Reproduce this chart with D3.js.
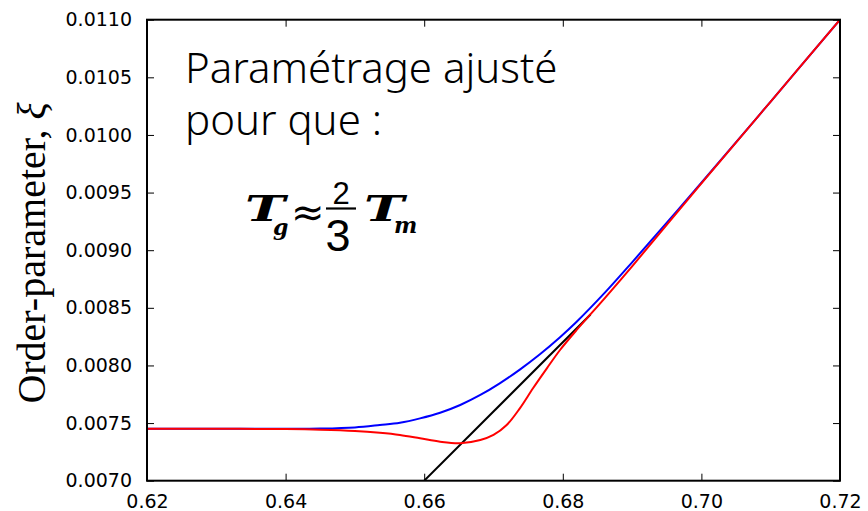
<!DOCTYPE html>
<html>
<head>
<meta charset="utf-8">
<script src="https://cdn.jsdelivr.net/npm/d3@7"></script>
<style>
  html, body { margin: 0; padding: 0; background: #fff; }
  svg { display: block; }
</style>
</head>
<body>
<svg id="chart" width="868" height="511"></svg>
<script>
// Temperature axis and order-parameter axis ticks
const xTicks = [0.62, 0.64, 0.66, 0.68, 0.70, 0.72];
const yTicks = [0.0070, 0.0075, 0.0080, 0.0085, 0.0090, 0.0095, 0.0100, 0.0105, 0.0110];

// Cooling curve (blue)
const blueX = [0.620, 0.630, 0.640, 0.645, 0.650, 0.6536, 0.6565, 0.6594, 0.6623, 0.6652, 0.6681,
               0.6709, 0.6738, 0.6767, 0.6796, 0.682, 0.686, 0.690, 0.700, 0.710, 0.720];
const blueY = [0.00745, 0.00745, 0.00745, 0.007452, 0.007462, 0.007483, 0.007503, 0.007541, 0.007590,
               0.007657, 0.007744, 0.007845, 0.007964, 0.008097, 0.008245, 0.008379, 0.008627, 0.008895,
               0.009585, 0.01029, 0.0110];

// Heating curve (red)
const redX = [0.620, 0.630, 0.640, 0.645, 0.650, 0.6536, 0.6565, 0.6594, 0.6623, 0.6652, 0.6681,
              0.6700, 0.6719, 0.6738, 0.6757, 0.6777, 0.6796, 0.682, 0.686, 0.690, 0.700, 0.710, 0.720];
const redY = [0.00745, 0.00745, 0.007448, 0.007443, 0.007432, 0.007416, 0.007397, 0.007368, 0.007338,
              0.007325, 0.007353, 0.007397, 0.007483, 0.007628, 0.007802, 0.007975, 0.008134, 0.008308,
              0.00858, 0.00886, 0.00958, 0.01029, 0.0110];

// Tangent to the liquid branch (black)
const tangentX = [0.660, 0.684];
const tangentY = [0.0070, 0.008442];

const svg = d3.select("#chart");
const margin = { left: 147, right: 28, top: 19.7, bottom: 30.3 };
const W = 868, H = 511;
const iw = W - margin.left - margin.right;
const ih = H - margin.top - margin.bottom;

const x = d3.scaleLinear().domain([0.62, 0.72]).range([0, iw]);
const y = d3.scaleLinear().domain([0.0070, 0.0110]).range([ih, 0]);

const g = svg.append("g").attr("transform", `translate(${margin.left},${margin.top})`);

g.append("defs").append("clipPath").attr("id", "plotClip")
  .append("rect").attr("width", iw).attr("height", ih);

const line = d3.line()
  .x(d => x(d[0]))
  .y(d => y(d[1]))
  .curve(d3.curveCatmullRom.alpha(0.5));

const plot = g.append("g").attr("clip-path", "url(#plotClip)");

plot.append("path")
  .datum(blueX.map((v, i) => [v, blueY[i]]))
  .attr("fill", "none").attr("stroke", "#0000ff").attr("stroke-width", 2)
  .attr("d", line);

plot.append("path")
  .datum(tangentX.map((v, i) => [v, tangentY[i]]))
  .attr("fill", "none").attr("stroke", "#000").attr("stroke-width", 2)
  .attr("d", d3.line().x(d => x(d[0])).y(d => y(d[1])));

plot.append("path")
  .datum(redX.map((v, i) => [v, redY[i]]))
  .attr("fill", "none").attr("stroke", "#ff0000").attr("stroke-width", 2)
  .attr("d", line);

// Axes: inward ticks on all four sides, labels on bottom and left only
const tickFont = "DejaVu Sans";
const tickSize = 19;

const xBottom = d3.axisBottom(x).tickValues(xTicks).tickSizeInner(-7).tickSizeOuter(0)
  .tickPadding(14).tickFormat(d3.format(".2f"));
const xTop = d3.axisTop(x).tickValues(xTicks).tickSizeInner(-7).tickSizeOuter(0).tickFormat("");
const yLeft = d3.axisLeft(y).tickValues(yTicks).tickSizeInner(-7).tickSizeOuter(0)
  .tickPadding(15).tickFormat(d3.format(".4f"));
const yRight = d3.axisRight(y).tickValues(yTicks).tickSizeInner(-7).tickSizeOuter(0).tickFormat("");

function styleAxis(sel) {
  sel.select(".domain").remove();
  sel.selectAll(".tick line").attr("stroke", "#000").attr("stroke-width", 1);
  sel.selectAll(".tick text")
    .attr("font-family", tickFont).attr("font-size", tickSize).attr("fill", "#000");
}

g.append("g").attr("transform", `translate(0,${ih})`).call(xBottom).call(styleAxis);
g.append("g").call(xTop).call(styleAxis);
g.append("g").call(yLeft).call(styleAxis);
g.append("g").attr("transform", `translate(${iw},0)`).call(yRight).call(styleAxis);

// Plot frame
g.append("rect")
  .attr("width", iw).attr("height", ih)
  .attr("fill", "none").attr("stroke", "#000").attr("stroke-width", 2);

// Y-axis title
const ylab = svg.append("text")
  .attr("transform", "translate(45,253) rotate(-90)")
  .attr("text-anchor", "middle")
  .attr("font-family", "Liberation Serif")
  .attr("font-size", 40)
  .attr("fill", "#000");
ylab.append("tspan").text("Order-parameter, ");
ylab.append("tspan").attr("font-style", "italic").text("ξ");

// Annotation
const note = svg.append("g")
  .attr("font-family", "Noto Sans")
  .attr("font-weight", 300)
  .attr("font-size", 42)
  .attr("fill", "#000");
note.append("text").attr("x", 185).attr("y", 83).text("Paramétrage ajusté");
note.append("text").attr("x", 185).attr("y", 135).text("pour que :");

// Relation T_g ≈ 2/3 T_m
const eq = svg.append("g").attr("fill", "#000");
const bi = sel => sel.attr("font-family", "DejaVu Serif")
  .attr("font-weight", "bold").attr("font-style", "italic");

eq.append("text").call(bi).attr("x", 245).attr("y", 221).attr("font-size", 36)
  .attr("textLength", 40).attr("lengthAdjust", "spacingAndGlyphs").text("T");
eq.append("text").call(bi).attr("x", 273).attr("y", 235).attr("font-size", 22).text("g");
eq.append("text").attr("x", 291).attr("y", 226).attr("font-family", "DejaVu Sans")
  .attr("font-size", 40).text("≈");
eq.append("line").attr("x1", 326).attr("x2", 356).attr("y1", 208.5).attr("y2", 208.5)
  .attr("stroke", "#000").attr("stroke-width", 2.2);
eq.append("text").attr("x", 341).attr("y", 204).attr("text-anchor", "middle")
  .attr("font-family", "Liberation Sans").attr("font-size", 31).text("2");
eq.append("text").attr("x", 338).attr("y", 251).attr("text-anchor", "middle")
  .attr("font-family", "Liberation Sans").attr("font-size", 45).text("3");
eq.append("text").call(bi).attr("x", 364).attr("y", 221).attr("font-size", 36)
  .attr("textLength", 40).attr("lengthAdjust", "spacingAndGlyphs").text("T");
eq.append("text").call(bi).attr("x", 394).attr("y", 233).attr("font-size", 22).text("m");
</script>
</body>
</html>
